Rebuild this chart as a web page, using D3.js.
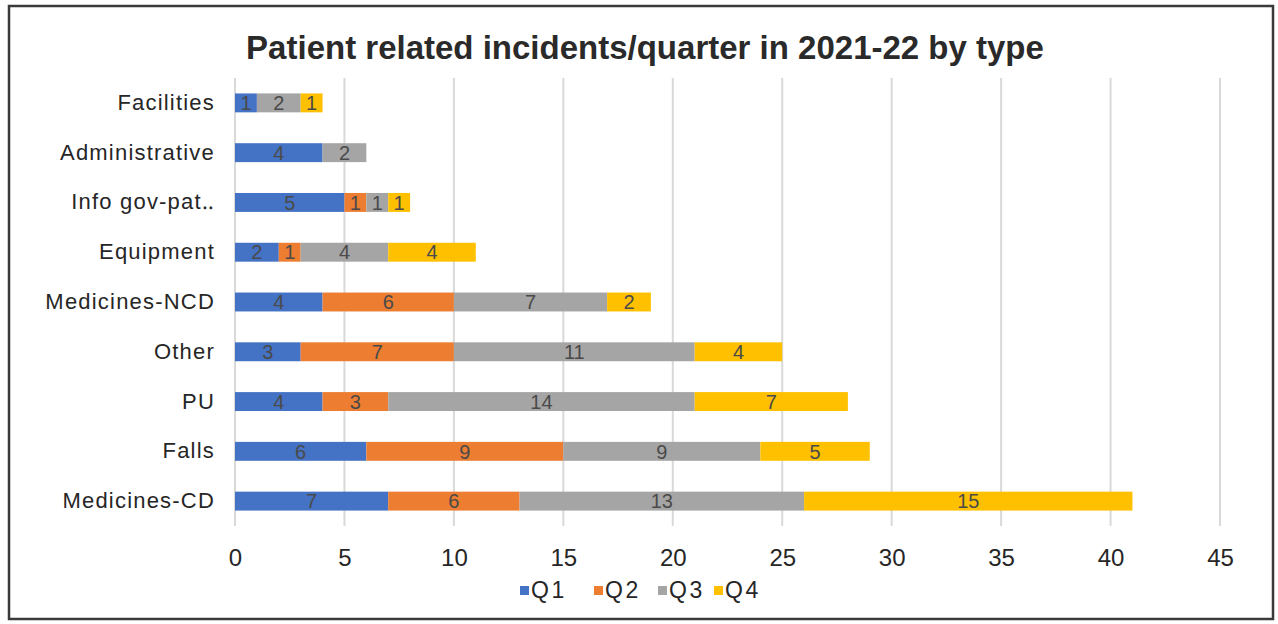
<!DOCTYPE html>
<html>
<head>
<meta charset="utf-8">
<script src="https://cdn.jsdelivr.net/npm/d3@7"></script>
<style>
  body { margin: 0; background: #fff; }
  text { font-family: "Liberation Sans", Arial, sans-serif; }
</style>
</head>
<body>
<svg id="chart"></svg>
<script>
// chart values
const categories = ['Facilities', 'Administrative', 'Info gov-pat\u2025', 'Equipment', 'Medicines-NCD', 'Other', 'PU', 'Falls', 'Medicines-CD'];
const quarters = ['Q1', 'Q2', 'Q3', 'Q4'];
const q1 = [1, 4, 5, 2, 4, 3, 4, 6, 7];
const q2 = [0, 0, 1, 1, 6, 7, 3, 9, 6];
const q3 = [2, 2, 1, 4, 7, 11, 14, 9, 13];
const q4 = [1, 0, 1, 4, 2, 4, 7, 5, 15];
const xTicks = [0, 5, 10, 15, 20, 25, 30, 35, 40, 45];
const colors = ['#4472c4', '#ed7d31', '#a5a5a5', '#ffc000'];

const W = 1278, H = 624;
const margin = {top: 78, right: 58, bottom: 98, left: 235};
const width = W - margin.left - margin.right;
const height = H - margin.top - margin.bottom;

const svg = d3.select('#chart').attr('width', W).attr('height', H);

// outer frame
svg.append('rect')
  .attr('x', 9).attr('y', 6)
  .attr('width', 1264).attr('height', 613)
  .attr('fill', 'none')
  .attr('stroke', '#3a3a3a')
  .attr('stroke-width', 2.5);

svg.append('text')
  .attr('x', 645).attr('y', 59)
  .attr('text-anchor', 'middle')
  .attr('font-size', '33px')
  .attr('font-weight', 'bold')
  .attr('fill', '#2a2a2a')
  .text('Patient related incidents/quarter in 2021-22 by type');

const chart = svg.append('g')
  .attr('transform', `translate(${margin.left},${margin.top})`);

const table = categories.map((c, i) => ({cat: c, Q1: q1[i], Q2: q2[i], Q3: q3[i], Q4: q4[i]}));
const stacked = d3.stack().keys(quarters)(table);

const xScale = d3.scaleLinear().domain([0, 45]).range([0, width]);
const yScale = d3.scaleBand().domain(categories).range([0, height]).paddingInner(0.62).paddingOuter(0.31);

// gridlines
chart.selectAll('.grid')
  .data(xTicks)
  .join('line')
    .attr('class', 'grid')
    .attr('x1', d => xScale(d)).attr('x2', d => xScale(d))
    .attr('y1', 0).attr('y2', height)
    .attr('stroke', '#d9d9d9')
    .attr('stroke-width', 2);

// x axis labels
const xAxis = d3.axisBottom(xScale).tickValues(xTicks).tickSize(0).tickPadding(23);
const xAxisG = chart.append('g')
  .attr('transform', `translate(0,${height})`)
  .call(xAxis);
xAxisG.select('.domain').remove();
xAxisG.selectAll('text')
  .attr('font-size', '24px')
  .attr('font-family', '"Liberation Sans", Arial, sans-serif')
  .attr('fill', '#262626');

// y axis labels
const yAxis = d3.axisLeft(yScale).tickSize(0).tickPadding(20);
const yAxisG = chart.append('g').call(yAxis);
yAxisG.select('.domain').remove();
yAxisG.selectAll('text')
  .attr('font-size', '22px')
  .attr('letter-spacing', '1.2px')
  .attr('font-family', '"Liberation Sans", Arial, sans-serif')
  .attr('fill', '#262626');

// stacked bars
const series = chart.selectAll('.series')
  .data(stacked)
  .join('g')
    .attr('class', 'series')
    .attr('fill', (d, i) => colors[i]);

series.selectAll('rect')
  .data(d => d.map(s => ({s, key: d.key})))
  .join('rect')
    .attr('x', d => xScale(d.s[0]))
    .attr('y', d => yScale(d.s.data.cat))
    .attr('width', d => xScale(d.s[1]) - xScale(d.s[0]))
    .attr('height', yScale.bandwidth());

// data labels
series.selectAll('text')
  .data(d => d.map(s => ({s, key: d.key})).filter(d => d.s[1] - d.s[0] > 0))
  .join('text')
    .attr('x', d => xScale((d.s[0] + d.s[1]) / 2))
    .attr('y', d => yScale(d.s.data.cat) + yScale.bandwidth() / 2)
    .attr('dy', '0.36em')
    .attr('text-anchor', 'middle')
    .attr('font-size', '20px')
    .attr('font-family', '"Liberation Sans Narrow", "Arial Narrow", sans-serif')
    .attr('fill', '#4a4a4a')
    .text(d => d.s[1] - d.s[0]);

// legend
const legendX = [520, 594, 658, 714];
const legend = svg.append('g');
quarters.forEach((q, i) => {
  legend.append('rect')
    .attr('x', legendX[i]).attr('y', 586)
    .attr('width', 9).attr('height', 9)
    .attr('fill', colors[i]);
  legend.append('text')
    .attr('x', legendX[i] + 11).attr('y', 598)
    .attr('font-size', '23px')
    .attr('letter-spacing', '2.5px')
    .attr('fill', '#262626')
    .text(q);
});
</script>
</body>
</html>
